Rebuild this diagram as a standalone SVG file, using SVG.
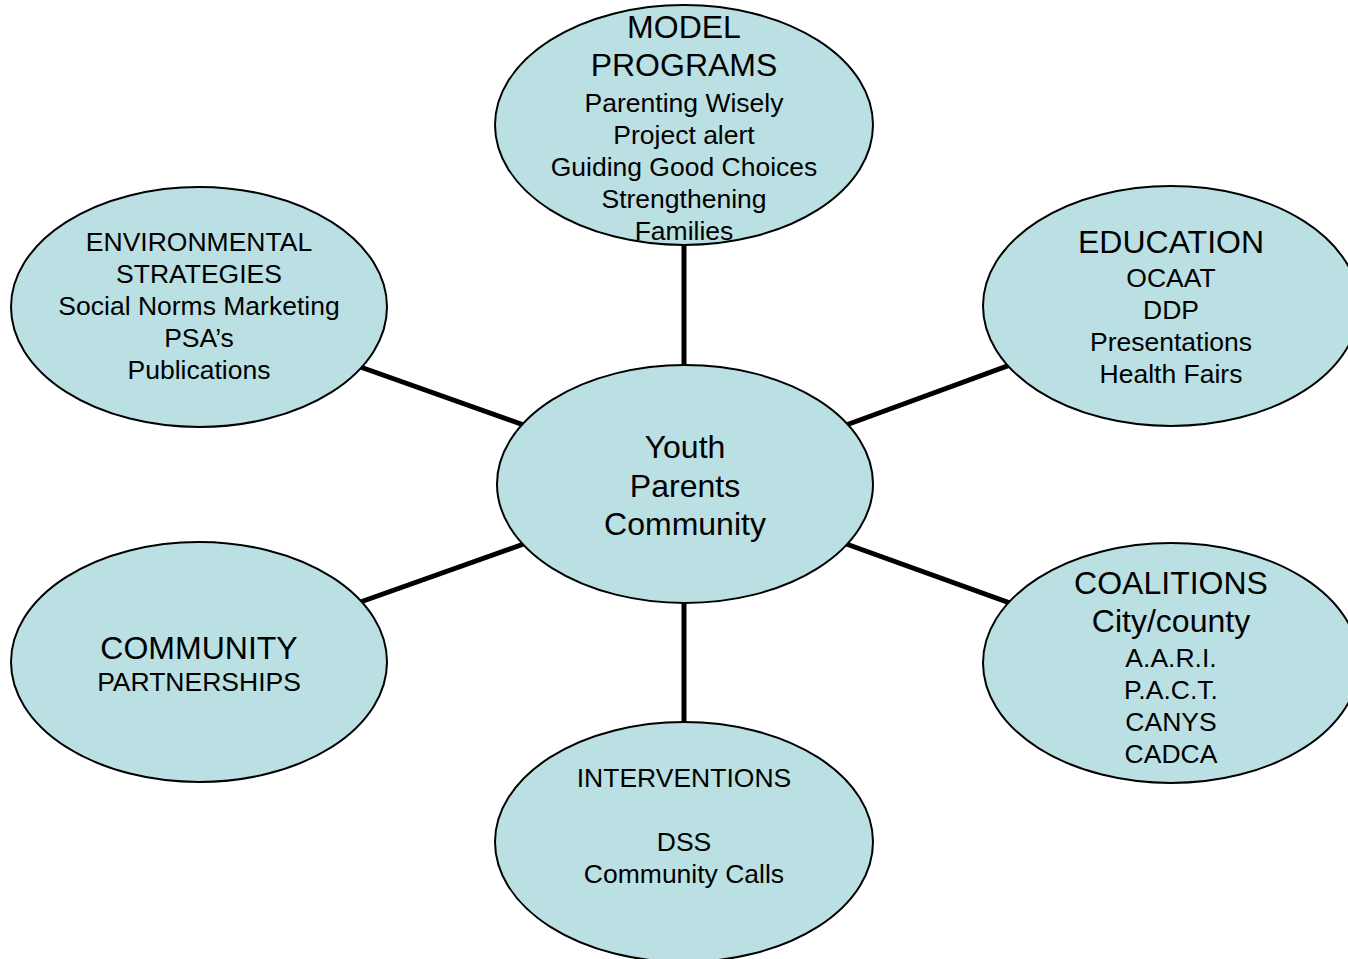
<svg xmlns="http://www.w3.org/2000/svg" width="1348" height="959" viewBox="0 0 1348 959">
<style>
.n{fill:#BBE0E3;stroke:#000;stroke-width:2}
.c line{stroke:#000;stroke-width:5}
text{font-family:"Liberation Sans",Arial,sans-serif;fill:#000;text-anchor:middle}
.b{font-size:32px}
.s{font-size:26.5px}
</style>
<rect width="1348" height="959" fill="#fff"/>
<g id="connectors" class="c">
<line x1="684" y1="235" x2="684" y2="375"/>
<line x1="352" y1="364" x2="532" y2="428"/>
<line x1="352" y1="605" x2="532" y2="541"/>
<line x1="838" y1="428" x2="1018" y2="362"/>
<line x1="838" y1="541" x2="1018" y2="606"/>
<line x1="684" y1="595" x2="684" y2="730"/>
</g>
<g id="center">
<ellipse class="n" cx="685" cy="484" rx="188" ry="119"/>
<text class="b" x="685" y="458">Youth</text>
<text class="b" x="685" y="497">Parents</text>
<text class="b" x="685" y="535">Community</text>
</g>
<g id="model-programs">
<ellipse class="n" cx="684" cy="125" rx="189" ry="120"/>
<text class="b" x="684" y="38">MODEL</text>
<text class="b" x="684" y="76">PROGRAMS</text>
<text class="s" x="684" y="112">Parenting Wisely</text>
<text class="s" x="684" y="144">Project alert</text>
<text class="s" x="684" y="176">Guiding Good Choices</text>
<text class="s" x="684" y="208">Strengthening</text>
<text class="s" x="684" y="240">Families</text>
</g>
<g id="environmental">
<ellipse class="n" cx="199" cy="307" rx="188" ry="120"/>
<text class="s" x="199" y="251">ENVIRONMENTAL</text>
<text class="s" x="199" y="283">STRATEGIES</text>
<text class="s" x="199" y="315">Social Norms Marketing</text>
<text class="s" x="199" y="347">PSA’s</text>
<text class="s" x="199" y="379">Publications</text>
</g>
<g id="education">
<ellipse class="n" cx="1171" cy="306" rx="188" ry="120"/>
<text class="b" x="1171" y="253">EDUCATION</text>
<text class="s" x="1171" y="287">OCAAT</text>
<text class="s" x="1171" y="319">DDP</text>
<text class="s" x="1171" y="351">Presentations</text>
<text class="s" x="1171" y="383">Health Fairs</text>
</g>
<g id="community">
<ellipse class="n" cx="199" cy="662" rx="188" ry="120"/>
<text class="b" x="199" y="659">COMMUNITY</text>
<text class="s" x="199" y="691">PARTNERSHIPS</text>
</g>
<g id="coalitions">
<ellipse class="n" cx="1171" cy="663" rx="188" ry="120"/>
<text class="b" x="1171" y="594">COALITIONS</text>
<text class="b" x="1171" y="632">City/county</text>
<text class="s" x="1171" y="667">A.A.R.I.</text>
<text class="s" x="1171" y="699">P.A.C.T.</text>
<text class="s" x="1171" y="731">CANYS</text>
<text class="s" x="1171" y="763">CADCA</text>
</g>
<g id="interventions">
<ellipse class="n" cx="684" cy="842" rx="189" ry="120"/>
<text class="s" x="684" y="787">INTERVENTIONS</text>
<text class="s" x="684" y="851">DSS</text>
<text class="s" x="684" y="883">Community Calls</text>
</g>
</svg>
